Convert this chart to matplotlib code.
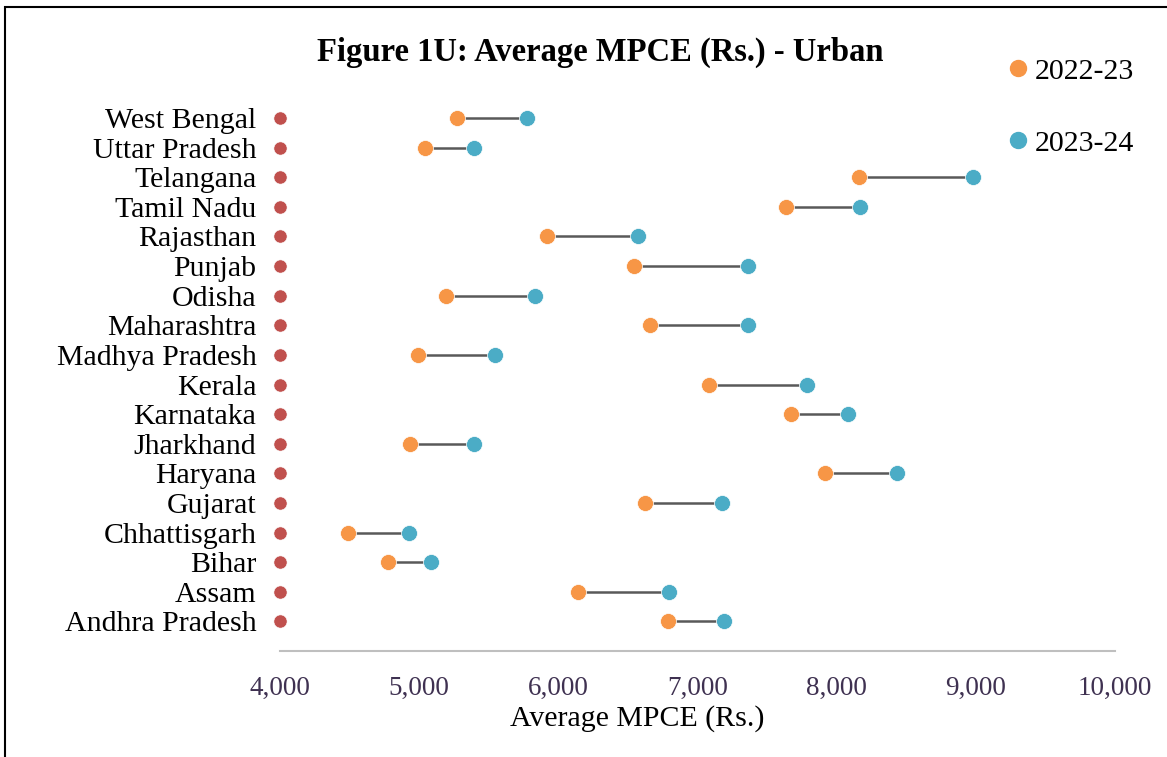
import matplotlib
matplotlib.use("Agg")
import matplotlib.pyplot as plt
from matplotlib.lines import Line2D
from matplotlib.patches import Rectangle

plt.rcParams['font.family'] = ['Liberation Serif', 'DejaVu Serif']

# states from bottom to top (as in the chart)
states = ["Andhra Pradesh", "Assam", "Bihar", "Chhattisgarh", "Gujarat", "Haryana",
          "Jharkhand", "Karnataka", "Kerala", "Madhya Pradesh", "Maharashtra", "Odisha",
          "Punjab", "Rajasthan", "Tamil Nadu", "Telangana", "Uttar Pradesh", "West Bengal"]
mpce_2223 = [6785, 6141, 4774, 4487, 6624, 7915, 4934, 7671, 7081, 4992, 6661, 5191,
             6543, 5917, 7634, 8160, 5045, 5272]
mpce_2324 = [7187, 6796, 5085, 4930, 7178, 8433, 5397, 8082, 7785, 5542, 7366, 5829,
             7362, 6576, 8167, 8980, 5397, 5778]
label_x = [4000] * len(states)   # label marker series sits on the axis start

xticks = [4000, 5000, 6000, 7000, 8000, 9000, 10000]

orange = "#F79646"
blue = "#4BACC6"
red = "#C0504D"

fig = plt.figure(figsize=(11.67, 7.57), dpi=100)
ax = fig.add_axes([280/1167, 1-651/757, (1115-280)/1167, (651-88.4)/757])

ys = list(range(len(states)))

# connector lines
ax.hlines(ys, mpce_2223, mpce_2324, color="#595959", lw=1.8, zorder=1)
ax.plot(mpce_2223, ys, "o", color=orange, ms=11.5, mec="white", mew=0.5, zorder=3, label="2022-23")
ax.plot(mpce_2324, ys, "o", color=blue, ms=11.5, mec="white", mew=0.5, zorder=3, label="2023-24")
ax.plot(label_x, ys, "o", color=red, ms=9.5, mec="white", mew=0.4, zorder=3, clip_on=False)

ax.set_xlim(4000, 10000)
ax.set_ylim(-1, 18)
ax.set_xticks(xticks)
ax.set_xticklabels([f"{v:,}" for v in xticks])
ax.set_yticks(ys)
ax.set_yticklabels(states, fontsize=21.5)
ax.tick_params(axis="y", length=0, pad=17)
ax.tick_params(axis="x", length=0, pad=18, labelsize=19.5, labelcolor="#3F3151")

for s in ["top", "right", "left"]:
    ax.spines[s].set_visible(False)
ax.spines["bottom"].set_color("#BFBFBF")
ax.spines["bottom"].set_linewidth(1.5)

fig.text(637/1167, 1-719/757, "Average MPCE (Rs.)", ha="center", va="center", fontsize=21.5)
fig.text(600/1167, 1-52/757, "Figure 1U: Average MPCE (Rs.) - Urban", ha="center", va="center",
         fontsize=23.5, fontweight="bold")

handles = [Line2D([], [], ls="none", marker="o", color=orange, ms=11.5),
           Line2D([], [], ls="none", marker="o", color=blue, ms=11.5)]
fig.legend(handles, ["2022-23", "2023-24"], loc="upper left", bbox_to_anchor=(1011/1167, 1-58/757),
           frameon=False, handlelength=0.5, handletextpad=0.3, labelspacing=1.5, fontsize=21.5,
           borderaxespad=0, borderpad=0)

# outer frame (only left and top edges visible in the crop)
fig.patches.append(Rectangle((5/1167, -0.1), 2, 1-7/757+0.1, transform=fig.transFigure,
                             fill=False, edgecolor="black", lw=1.5, clip_on=False))

fig.savefig("out.png", dpi=100)
